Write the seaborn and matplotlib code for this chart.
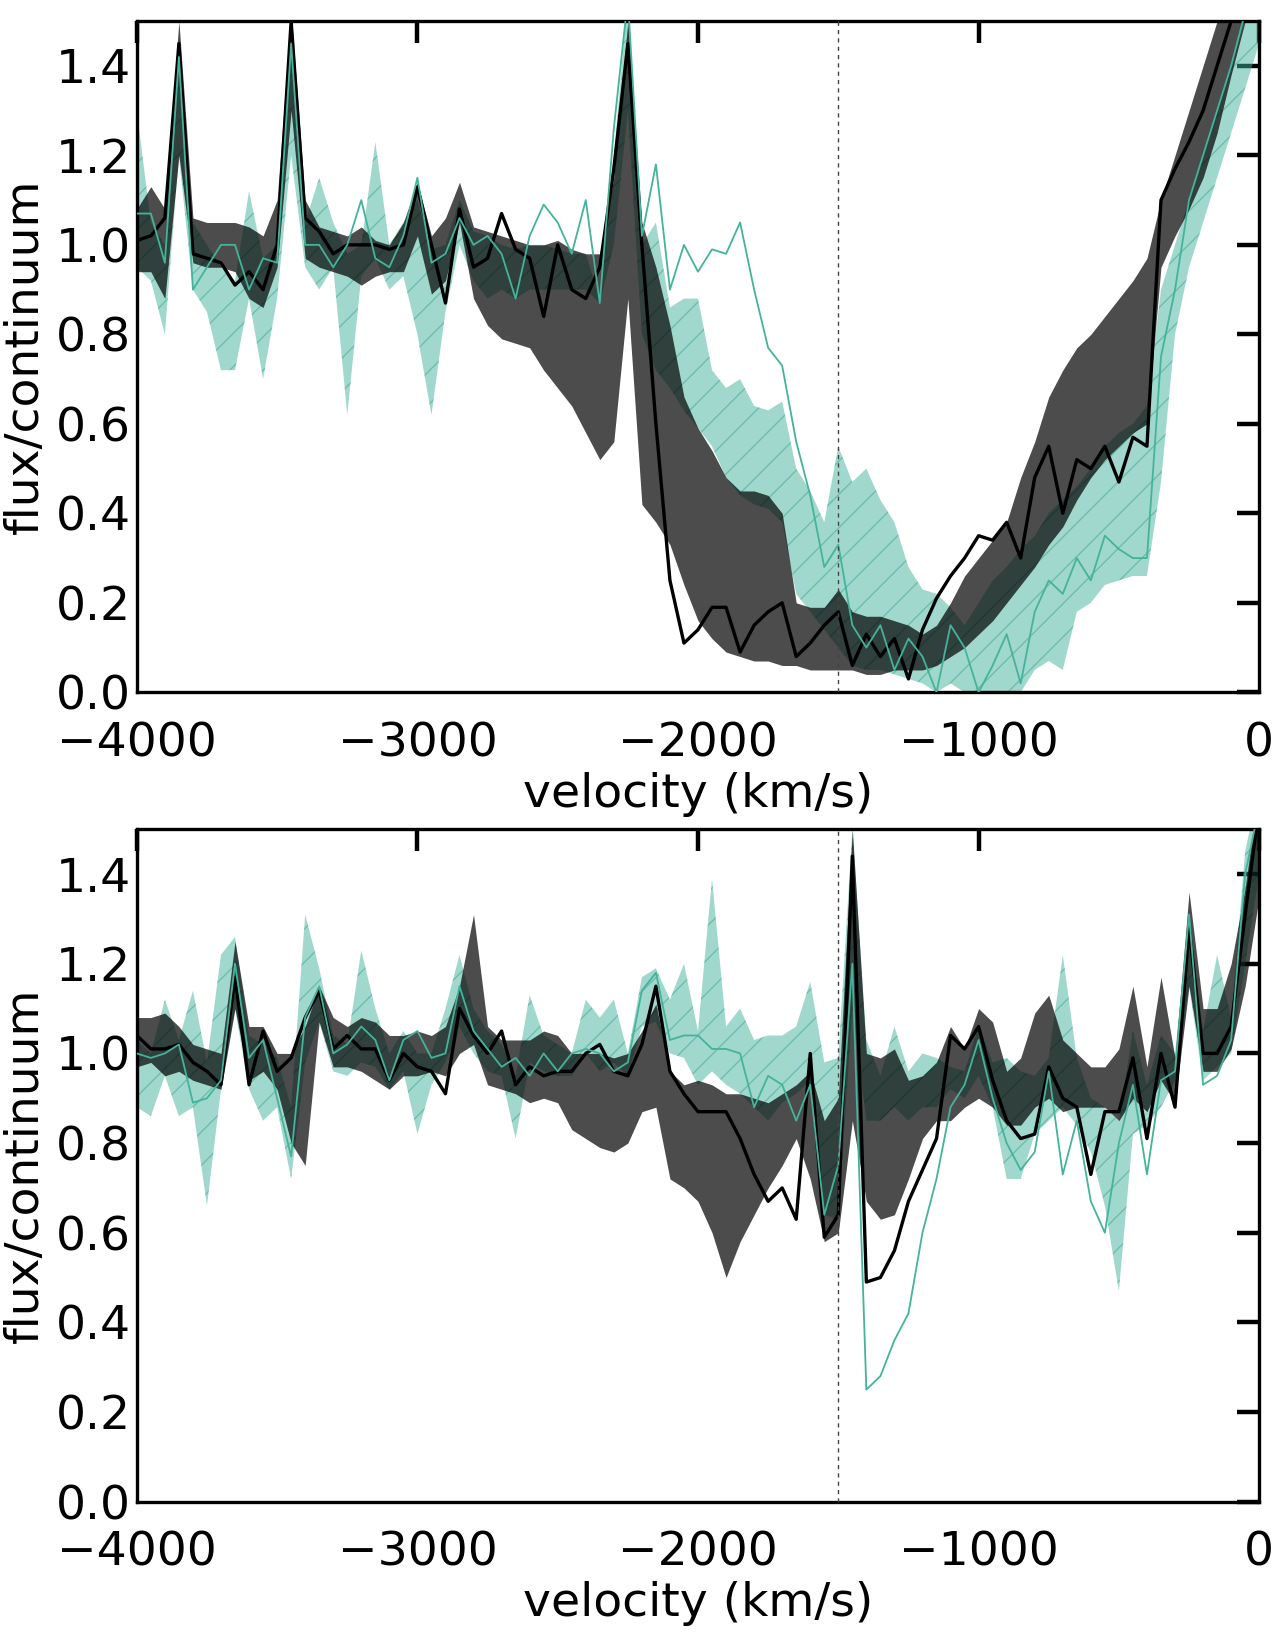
import numpy as np
import pandas as pd
import matplotlib
matplotlib.use("Agg")
import matplotlib.pyplot as plt
import seaborn as sns

# velocity grid (km/s), shared by both panels
velocity = list(range(-4000, 50, 50))

# ---- top panel ----
top_dark_lo = [0.94, 0.94, 0.88, 1.20, 0.96, 0.95, 0.95, 0.94, 0.88, 0.86,
               0.95, 1.30, 0.97, 0.95, 0.94, 0.93, 0.91, 0.93, 0.94, 0.94,
               1.02, 0.89, 0.92, 1.05, 0.88, 0.82, 0.79, 0.78, 0.77, 0.72,
               0.68, 0.64, 0.58, 0.52, 0.56, 0.88, 0.42, 0.38, 0.33, 0.24,
               0.16, 0.12, 0.09, 0.08, 0.07, 0.07, 0.06, 0.06, 0.05, 0.05,
               0.05, 0.05, 0.04, 0.04, 0.05, 0.05, 0.05, 0.06, 0.08, 0.10,
               0.13, 0.16, 0.20, 0.24, 0.28, 0.33, 0.37, 0.43, 0.48, 0.52,
               0.55, 0.58, 0.60, 0.95, 1.02, 1.08, 1.15, 1.25, 1.38, 1.50,
               1.60]
top_dark_hi = [1.08, 1.13, 1.08, 1.50, 1.06, 1.05, 1.05, 1.05, 1.04, 1.02,
               1.10, 1.52, 1.10, 1.04, 1.03, 1.02, 1.04, 1.01, 1.00, 1.05,
               1.14, 1.02, 1.06, 1.14, 1.04, 1.03, 1.02, 1.01, 1.00, 1.00,
               1.01, 0.99, 0.98, 0.98, 1.15, 1.50, 1.05, 0.95, 0.82, 0.66,
               0.59, 0.54, 0.48, 0.45, 0.45, 0.44, 0.40, 0.20, 0.19, 0.19,
               0.23, 0.18, 0.17, 0.17, 0.16, 0.15, 0.13, 0.15, 0.20, 0.26,
               0.30, 0.34, 0.38, 0.48, 0.56, 0.66, 0.72, 0.77, 0.80, 0.84,
               0.88, 0.92, 0.97, 1.10, 1.20, 1.30, 1.40, 1.50, 1.60, 1.70,
               1.80]
top_black = [1.01, 1.02, 1.06, 1.45, 0.98, 0.97, 0.96, 0.91, 0.94, 0.90,
             1.00, 1.50, 1.06, 1.03, 0.98, 1.00, 1.00, 1.00, 0.99, 1.00,
             1.13, 1.00, 0.87, 1.08, 0.95, 0.97, 1.07, 0.99, 0.97, 0.84,
             1.00, 0.90, 0.88, 0.95, 1.17, 1.45, 1.00, 0.60, 0.25, 0.11,
             0.14, 0.19, 0.19, 0.09, 0.15, 0.18, 0.20, 0.08, 0.11, 0.15,
             0.18, 0.06, 0.13, 0.08, 0.12, 0.03, 0.14, 0.21, 0.26, 0.30,
             0.35, 0.34, 0.38, 0.30, 0.48, 0.55, 0.40, 0.52, 0.50, 0.55,
             0.47, 0.57, 0.55, 1.10, 1.17, 1.23, 1.30, 1.40, 1.50, 1.60,
             1.70]
top_teal = [1.07, 1.07, 0.96, 1.42, 0.90, 0.95, 1.00, 1.00, 0.90, 0.97,
            0.96, 1.45, 1.00, 1.00, 0.95, 1.00, 1.10, 0.97, 0.95, 1.02,
            1.15, 0.96, 0.98, 1.06, 1.00, 1.02, 0.98, 0.88, 1.02, 1.09,
            1.05, 0.98, 1.10, 0.87, 1.26, 1.55, 1.02, 1.18, 0.90, 1.00,
            0.94, 0.99, 0.98, 1.05, 0.90, 0.77, 0.73, 0.56, 0.44, 0.28,
            0.33, 0.15, 0.10, 0.15, 0.05, 0.12, 0.08, 0.00, 0.15, 0.10,
            0.00, 0.06, 0.13, 0.02, 0.18, 0.25, 0.22, 0.30, 0.25, 0.35,
            0.32, 0.30, 0.30, 0.75, 0.90, 1.10, 1.20, 1.30, 1.40, 1.52,
            1.62]
top_teal_lo = [0.95, 0.92, 0.80, 1.20, 0.90, 0.85, 0.72, 0.72, 0.88, 0.70,
               0.88, 1.20, 0.95, 0.90, 0.95, 0.62, 0.93, 0.97, 0.90, 0.93,
               0.80, 0.62, 0.85, 1.00, 0.92, 0.88, 0.90, 0.88, 0.90, 0.90,
               0.90, 0.90, 0.90, 0.87, 1.00, 1.30, 0.80, 0.72, 0.68, 0.63,
               0.59, 0.55, 0.48, 0.44, 0.42, 0.41, 0.38, 0.22, 0.18, 0.14,
               0.10, 0.06, 0.05, 0.05, 0.04, 0.03, 0.02, 0.00, 0.02, 0.00,
               0.00, 0.00, 0.00, 0.00, 0.05, 0.07, 0.05, 0.18, 0.20, 0.24,
               0.25, 0.26, 0.26, 0.47, 0.80, 0.95, 1.05, 1.15, 1.25, 1.35,
               1.45]
top_teal_hi = [1.30, 1.05, 1.00, 1.42, 1.05, 1.00, 0.95, 0.92, 1.12, 0.97,
               1.00, 1.50, 1.05, 1.15, 1.05, 0.98, 1.00, 1.23, 1.00, 1.05,
               1.10, 0.99, 1.00, 1.10, 1.03, 1.02, 1.00, 0.99, 1.00, 1.00,
               0.99, 0.98, 0.98, 0.88, 1.20, 1.55, 1.00, 1.05, 0.86, 0.88,
               0.88, 0.72, 0.68, 0.70, 0.64, 0.63, 0.65, 0.50, 0.45, 0.38,
               0.55, 0.47, 0.50, 0.43, 0.38, 0.28, 0.23, 0.22, 0.19, 0.15,
               0.20, 0.25, 0.28, 0.32, 0.35, 0.40, 0.43, 0.46, 0.50, 0.55,
               0.58, 0.60, 0.64, 0.90, 1.00, 1.10, 1.20, 1.30, 1.40, 1.50,
               1.60]

# ---- bottom panel ----
bot_dark_lo = [0.97, 0.98, 0.95, 0.96, 0.94, 0.93, 0.92, 1.10, 0.94, 0.96,
               0.92, 0.80, 0.75, 1.07, 0.97, 0.97, 0.96, 0.94, 0.92, 0.95,
               0.95, 0.96, 0.95, 1.00, 1.02, 0.93, 0.92, 0.91, 0.89, 0.90,
               0.89, 0.83, 0.81, 0.79, 0.78, 0.80, 0.87, 0.88, 0.72, 0.70,
               0.67, 0.60, 0.50, 0.58, 0.64, 0.70, 0.75, 0.81, 0.72, 0.58,
               0.60, 0.85, 0.67, 0.63, 0.64, 0.72, 0.81, 0.85, 0.85, 0.88,
               0.90, 0.88, 0.84, 0.84, 0.88, 0.90, 0.87, 0.88, 0.88, 0.88,
               0.85, 0.90, 0.87, 0.94, 0.89, 1.15, 0.96, 0.96, 1.01, 1.15,
               1.35]
bot_dark_hi = [1.08, 1.08, 1.09, 1.06, 1.02, 1.01, 1.00, 1.25, 1.06, 1.06,
               1.00, 1.00, 1.06, 1.15, 1.08, 1.06, 1.08, 1.07, 1.04, 1.04,
               1.05, 1.04, 1.06, 1.15, 1.31, 1.06, 1.03, 1.03, 1.03, 1.05,
               1.04, 1.00, 1.00, 1.00, 0.99, 1.00, 1.05, 1.11, 0.96, 0.93,
               0.94, 0.93, 0.91, 0.91, 0.90, 0.89, 0.91, 0.93, 0.96, 0.85,
               0.90, 1.50, 1.00, 0.99, 1.01, 0.94, 0.95, 0.98, 1.06, 1.01,
               1.10, 1.07, 0.96, 0.99, 1.09, 1.13, 1.03, 1.00, 0.97, 0.97,
               1.01, 1.15, 0.97, 1.17, 0.99, 1.36, 1.10, 1.10, 1.20, 1.37,
               1.60]
bot_black = [1.04, 1.01, 1.01, 1.02, 0.98, 0.96, 0.93, 1.17, 0.93, 1.05,
             0.96, 0.99, 1.08, 1.14, 1.01, 1.04, 1.01, 1.01, 0.94, 1.00,
             0.97, 0.96, 0.91, 1.10, 1.04, 1.00, 1.05, 0.93, 0.97, 0.95,
             0.96, 0.96, 1.00, 1.02, 0.96, 0.95, 1.02, 1.15, 0.96, 0.91,
             0.87, 0.87, 0.87, 0.81, 0.73, 0.67, 0.70, 0.63, 1.00, 0.59,
             0.64, 1.44, 0.49, 0.50, 0.56, 0.67, 0.74, 0.81, 1.04, 1.01,
             1.06, 0.94, 0.85, 0.81, 0.82, 0.97, 0.90, 0.88, 0.73, 0.87,
             0.87, 0.99, 0.81, 1.00, 0.88, 1.28, 1.00, 1.00, 1.06, 1.31,
             1.55]
bot_teal = [1.00, 0.99, 1.00, 1.02, 0.89, 0.90, 0.94, 1.20, 0.99, 1.03,
            0.90, 0.77, 1.08, 1.15, 1.00, 1.02, 1.06, 1.03, 0.94, 1.03,
            1.05, 0.99, 1.00, 1.15, 1.05, 1.01, 0.97, 0.99, 0.95, 1.00,
            0.96, 1.00, 1.01, 1.00, 0.96, 0.98, 1.14, 1.18, 1.03, 1.04,
            1.04, 1.01, 1.01, 1.00, 0.88, 0.95, 0.93, 0.85, 0.93, 0.64,
            0.75, 1.20, 0.25, 0.28, 0.36, 0.42, 0.60, 0.72, 0.88, 0.93,
            1.03, 0.90, 0.80, 0.74, 0.78, 0.96, 0.73, 0.85, 0.67, 0.60,
            0.80, 0.93, 0.73, 0.94, 0.96, 1.31, 0.93, 0.95, 1.03, 1.40,
            1.55]
bot_teal_lo = [0.88, 0.86, 0.95, 0.86, 0.88, 0.66, 0.92, 1.10, 0.92, 0.85,
               0.88, 0.72, 0.98, 1.07, 0.96, 0.95, 0.98, 0.97, 0.92, 0.96,
               0.82, 0.93, 0.98, 1.06, 1.00, 0.96, 0.95, 0.81, 0.98, 0.96,
               0.95, 0.95, 1.00, 0.96, 0.98, 0.95, 1.06, 1.07, 1.00, 0.99,
               0.93, 0.96, 0.93, 0.91, 0.88, 0.85, 0.89, 0.91, 0.94, 0.64,
               0.63, 1.10, 0.85, 0.85, 0.88, 0.85, 0.88, 0.88, 0.92, 0.90,
               0.95, 0.88, 0.72, 0.72, 0.82, 0.85, 0.88, 0.84, 0.78, 0.66,
               0.47, 0.82, 0.84, 0.88, 0.94, 1.15, 0.94, 0.97, 1.00, 1.20,
               1.40]
bot_teal_hi = [1.03, 1.00, 1.12, 1.03, 1.14, 0.98, 1.22, 1.26, 1.04, 1.02,
               0.99, 0.88, 1.31, 1.19, 1.04, 1.02, 1.23, 1.10, 1.00, 1.05,
               1.00, 1.00, 1.10, 1.22, 1.10, 1.05, 1.02, 0.95, 1.13, 1.04,
               1.02, 1.00, 1.12, 1.08, 1.12, 1.00, 1.17, 1.19, 1.12, 1.20,
               1.05, 1.39, 1.06, 1.10, 1.03, 1.04, 1.04, 1.06, 1.16, 0.98,
               0.99, 1.50, 1.03, 0.95, 1.06, 0.96, 1.00, 0.99, 0.97, 0.96,
               1.06, 0.98, 0.99, 0.96, 0.95, 0.99, 1.22, 0.99, 0.90, 0.88,
               0.85, 1.05, 0.93, 1.04, 1.00, 1.31, 1.05, 1.22, 1.08, 1.45,
               1.60]

v_marker = -1500
teal = "#44b39c"

sns.set_style("white")
plt.rcParams['font.family'] = ['DejaVu Sans']
plt.rcParams['hatch.linewidth'] = 1.0
for key in ['text.color', 'axes.labelcolor', 'xtick.color', 'ytick.color']:
    plt.rcParams[key] = 'black'


def draw_panel(ax, dark_lo, dark_hi, black, teal_line, teal_lo, teal_hi):
    df = pd.DataFrame({'velocity': velocity, 'black': black, 'teal': teal_line})
    # hatched teal band underneath
    ax.fill_between(velocity, teal_lo, teal_hi, facecolor=teal, alpha=0.5,
                    edgecolor="#3aa38d", hatch='/', linewidth=0, zorder=1)
    # dark band on top
    ax.fill_between(velocity, dark_lo, dark_hi, facecolor='black', alpha=0.7,
                    linewidth=0, zorder=2)
    sns.lineplot(data=df, x='velocity', y='black', color='black', lw=2.4,
                 ax=ax, zorder=3)
    sns.lineplot(data=df, x='velocity', y='teal', color=teal, lw=1.3,
                 ax=ax, zorder=4)
    ax.axvline(v_marker, color='#444444', lw=1.0, ls=(0, (3, 3)), zorder=5)

    ax.set_xlim(-4000, 0)
    ax.set_ylim(0, 1.5)
    ax.set_xticks([-4000, -3000, -2000, -1000, 0])
    ax.set_yticks([0.0, 0.2, 0.4, 0.6, 0.8, 1.0, 1.2, 1.4])
    ax.set_yticklabels(['0.0', '0.2', '0.4', '0.6', '0.8', '1.0', '1.2', '1.4'])
    ax.set_xticklabels(['\u22124000', '\u22123000', '\u22122000', '\u22121000', '0'])
    ax.tick_params(direction='in', length=16, width=3.2, top=True, right=True,
                   labelsize=34, color='black', labelcolor='black')
    ax.tick_params(axis='x', pad=21)
    ax.tick_params(axis='y', pad=4)
    for s in ax.spines.values():
        s.set_linewidth(2.4)
        s.set_color('black')
    ax.set_xlabel('velocity (km/s)', fontsize=34, labelpad=4, color='black')
    ax.set_ylabel('flux/continuum', fontsize=34, labelpad=6, color='black')


fig = plt.figure(figsize=(12.75, 16.5), dpi=100)
ax1 = fig.add_axes([0.1073, 0.5804, 0.8803, 0.4068])
ax2 = fig.add_axes([0.1073, 0.0899, 0.8803, 0.4075])

draw_panel(ax1, top_dark_lo, top_dark_hi, top_black, top_teal, top_teal_lo, top_teal_hi)
draw_panel(ax2, bot_dark_lo, bot_dark_hi, bot_black, bot_teal, bot_teal_lo, bot_teal_hi)

fig.savefig('out.png', dpi=100)
